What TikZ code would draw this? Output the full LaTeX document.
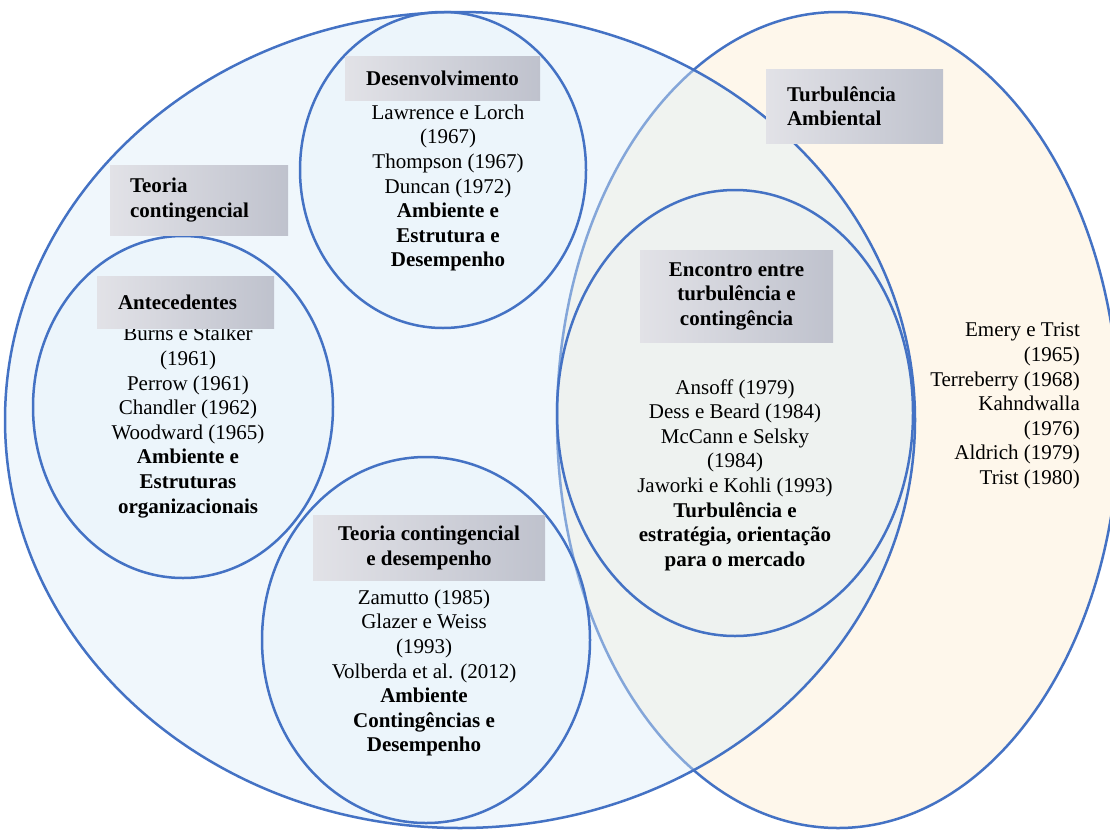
\documentclass[tikz,border=0pt]{standalone}
\usepackage{fontspec}
\setmainfont{Liberation Serif}
\definecolor{edge}{HTML}{4472C4}
\definecolor{cream}{HTML}{FEF7EB}
\definecolor{bigblue}{HTML}{DDEEF8}
\definecolor{boxl}{HTML}{E2E2E7}
\definecolor{boxr}{HTML}{BFC2CD}
\begin{document}
\begin{tikzpicture}[x=1pt,y=-1pt,
  ring/.style={draw=edge, line width=2.5pt},
  lbl/.style={left color=boxl, right color=boxr, draw=none, font=\fontsize{21}{24.5}\selectfont\bfseries, inner sep=0pt},
  body/.style={font=\fontsize{21}{24.6}\selectfont, align=center, inner sep=0pt}]
\useasboundingbox (0,0) rectangle (1110,830);
\fill[white] (0,0) rectangle (1110,830);
% big ellipses
\path[ring, fill=cream] (838,420) ellipse [x radius=281pt, y radius=408pt];
\path[ring, fill=bigblue, fill opacity=0.42] (460,420) ellipse [x radius=455pt, y radius=408pt];
% inner ellipses
\path[ring, fill=bigblue, fill opacity=0.2] (443,170) ellipse [x radius=143pt, y radius=158pt];
\path[ring, fill=bigblue, fill opacity=0.2] (183,407) ellipse [x radius=150pt, y radius=171pt];
\path[ring, fill=bigblue, fill opacity=0.2] (426,640) ellipse [x radius=164pt, y radius=183pt];
\path[ring, fill=bigblue, fill opacity=0.08] (735,413) ellipse [x radius=178pt, y radius=223pt];
% texts
\node[body] (t1) at (448,188) {Lawrence e Lorch\\(1967)\\Thompson (1967)\\Duncan (1972)\\\textbf{Ambiente e}\\\textbf{Estrutura e}\\\textbf{Desempenho}};
\node[body] (t2) at (188,422) {Burns e Stalker\\(1961)\\Perrow (1961)\\Chandler (1962)\\Woodward (1965)\\\textbf{Ambiente e}\\\textbf{Estruturas}\\\textbf{organizacionais}};
\node[body] (t3) at (735,475) {Ansoff (1979)\\Dess e Beard (1984)\\McCann e Selsky\\(1984)\\Jaworki e Kohli (1993)\\\textbf{Turbulência e}\\\textbf{estratégia, orientação}\\\textbf{para o mercado}};
\node[body] (t4) at (424,673) {Zamutto (1985)\\Glazer e Weiss\\(1993)\\Volberda et al. (2012)\\\textbf{Ambiente}\\\textbf{Contingências e}\\\textbf{Desempenho}};
\node[body, align=right, anchor=east] (t5) at (1080,406) {Emery e Trist\\(1965)\\Terreberry (1968)\\Kahndwalla\\(1976)\\Aldrich (1979)\\Trist (1980)};
% label boxes
\node[lbl, minimum width=195pt, minimum height=44pt] (b1) at (442.5,78) {Desenvolvimento};
\node[lbl, minimum width=177pt, minimum height=74pt, text width=135pt, align=left] (b2) at (854.5,106) {Turbulência\\Ambiental};
\node[lbl, minimum width=178pt, minimum height=70pt, text width=138pt, align=left] (b3) at (199,200) {Teoria\\contingencial};
\node[lbl, minimum width=177pt, minimum height=52pt, text width=135pt, align=left] (b4) at (185.5,302) {Antecedentes};
\node[lbl, minimum width=193pt, minimum height=92pt, align=center] (b5) at (736.5,296) {Encontro entre\\turbulência e\\contingência};
\node[lbl, minimum width=232pt, minimum height=65pt, align=center] (b6) at (429,548) {Teoria contingencial\\e desempenho};
\end{tikzpicture}
\end{document}
